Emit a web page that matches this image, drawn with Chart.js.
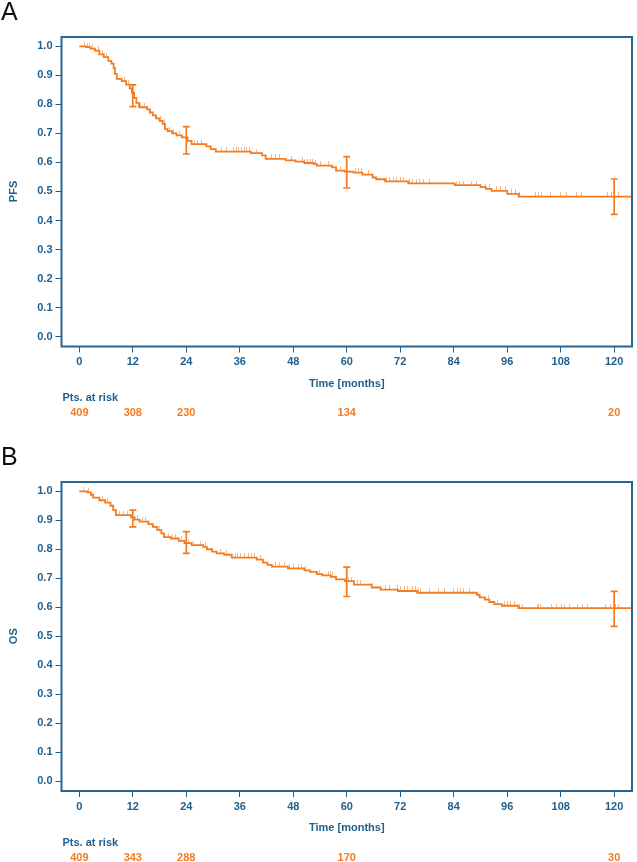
<!DOCTYPE html>
<html><head><meta charset="utf-8">
<script src="https://cdn.jsdelivr.net/npm/chart.js@4/dist/chart.umd.min.js"></script>
<style>
html,body{margin:0;padding:0;background:#fff;}
canvas{position:absolute;left:0;}
#ca{top:0;}
#cb{top:445px;}
</style></head><body>
<canvas id="ca" width="637" height="445"></canvas>
<canvas id="cb" width="637" height="417"></canvas>
<script>
// ---------- data ----------
const xTicks = [0, 12, 24, 36, 48, 60, 72, 84, 96, 108, 120];
const yTicks = [0.0, 0.1, 0.2, 0.3, 0.4, 0.5, 0.6, 0.7, 0.8, 0.9, 1.0];

// PFS (panel A) Kaplan-Meier steps: time of drop, survival after drop
const pfsTime = [0, 1.5, 2.5, 3.5, 4.5, 5.5, 6.5, 7.2, 7.7, 8.0, 8.4, 9.5, 10.5, 11.3, 11.8, 12.3, 12.8, 13.4, 15.2, 15.8, 16.5, 17.2, 18.0, 18.7, 19.2, 19.8, 20.8, 21.8, 23.0, 24.3, 25.2, 28.5, 29.5, 30.6, 38.5, 41.0, 41.8, 46.3, 48.5, 50.5, 52.6, 53.3, 56.7, 57.6, 59.5, 61.5, 63.5, 65.8, 66.6, 68.6, 73.8, 84.2, 90.0, 91.2, 92.5, 96.0, 98.6, 124];
const pfsSurv = [1.0, 0.997, 0.992, 0.985, 0.972, 0.963, 0.950, 0.940, 0.925, 0.905, 0.888, 0.880, 0.868, 0.855, 0.840, 0.822, 0.805, 0.790, 0.783, 0.772, 0.762, 0.752, 0.743, 0.733, 0.715, 0.708, 0.700, 0.693, 0.686, 0.674, 0.663, 0.655, 0.646, 0.637, 0.632, 0.624, 0.612, 0.607, 0.603, 0.598, 0.594, 0.589, 0.583, 0.572, 0.568, 0.565, 0.558, 0.548, 0.542, 0.535, 0.528, 0.522, 0.515, 0.509, 0.502, 0.492, 0.482, 0.482];
const pfsCensor = [1.2, 1.8, 2.2, 3.0, 4.2, 5.2, 6.0, 10.2, 11.0, 13.8, 14.6, 16.0, 18.2, 19.0, 20.2, 21.2, 22.4, 25.8, 26.6, 27.4, 32.0, 33.0, 34.6, 35.2, 35.8, 36.4, 37.0, 37.6, 38.2, 39.8, 43.2, 44.0, 45.0, 47.5, 50.0, 50.6, 51.2, 51.8, 52.4, 53.0, 54.2, 56.0, 58.6, 62.0, 62.6, 63.2, 64.8, 68.9, 69.6, 70.4, 71.2, 72.0, 72.7, 74.1, 74.8, 75.6, 76.4, 77.2, 78.6, 84.6, 85.4, 86.2, 88.0, 89.1, 91.2, 92.0, 93.6, 94.4, 95.6, 97.0, 97.8, 98.7, 102.4, 103.1, 103.8, 105.7, 107.9, 109.4, 111.5, 112.6, 118.4, 119.5, 121.0];
const pfsErrTime = [12, 24, 60, 120];
const pfsErrLow = [0.792, 0.629, 0.512, 0.421];
const pfsErrHigh = [0.867, 0.723, 0.620, 0.543];
const pfsRiskTime = [0, 12, 24, 60, 120];
const pfsRisk = [409, 308, 230, 134, 20];

// OS (panel B)
const osTime = [0, 1.8, 2.6, 3.1, 4.5, 5.8, 7.0, 7.6, 8.2, 11.6, 12.4, 13.5, 15.5, 16.5, 17.5, 18.4, 19.0, 20.5, 22.3, 23.6, 25.2, 27.8, 28.6, 29.8, 30.8, 32.5, 34.2, 39.8, 41.2, 42.2, 43.2, 46.8, 50.5, 51.8, 53.3, 54.5, 56.4, 57.6, 59.6, 61.6, 65.6, 67.6, 71.5, 75.8, 89.2, 89.8, 91.0, 92.0, 93.1, 94.8, 98.5, 124];
const osSurv = [1.0, 0.996, 0.988, 0.978, 0.969, 0.961, 0.950, 0.935, 0.918, 0.910, 0.902, 0.895, 0.887, 0.877, 0.866, 0.855, 0.842, 0.837, 0.829, 0.821, 0.814, 0.808, 0.800, 0.792, 0.786, 0.781, 0.771, 0.764, 0.754, 0.746, 0.740, 0.734, 0.727, 0.722, 0.714, 0.710, 0.705, 0.696, 0.690, 0.678, 0.668, 0.661, 0.656, 0.650, 0.643, 0.634, 0.626, 0.618, 0.611, 0.605, 0.597, 0.597];
const osCensor = [1.0, 2.0, 5.2, 6.4, 9.0, 10.0, 10.8, 13.0, 14.2, 14.8, 18.0, 20.0, 21.0, 21.6, 23.0, 24.6, 25.6, 27.2, 28.2, 31.6, 33.0, 35.0, 35.6, 36.2, 37.0, 38.0, 38.6, 39.2, 40.6, 44.0, 45.0, 46.0, 47.2, 48.0, 49.2, 49.8, 50.7, 53.8, 55.9, 56.3, 56.7, 60.4, 61.0, 61.6, 62.4, 63.0, 65.6, 68.8, 69.6, 71.4, 72.1, 72.9, 73.6, 74.8, 75.4, 76.0, 76.6, 78.5, 80.5, 81.9, 84.0, 84.8, 85.5, 86.2, 87.5, 91.9, 93.8, 95.3, 96.0, 96.8, 97.6, 98.7, 99.4, 102.7, 103.1, 103.4, 105.9, 107.0, 108.1, 108.9, 110.0, 111.8, 112.9, 114.0, 118.1, 119.2, 120.3, 121.0];
const osErrTime = [12, 24, 60, 120];
const osErrLow = [0.877, 0.786, 0.637, 0.534];
const osErrHigh = [0.935, 0.861, 0.738, 0.655];
const osRiskTime = [0, 12, 24, 60, 120];
const osRisk = [409, 343, 288, 170, 30];

// ---------- styling ----------
const BLUE = '#1f5f8e';
const BOX = '#2a6592';
const ORANGE = '#f47b20';
const FONT = '"Liberation Sans", Arial, sans-serif';

function stepAt(times, surv, t) {
  let v = surv[0];
  for (let i = 0; i < times.length; i++) { if (times[i] <= t) v = surv[i]; else break; }
  return v;
}

function censorImage() {
  const c = document.createElement('canvas');
  c.width = 1; c.height = 9;
  const g = c.getContext('2d');
  g.fillStyle = 'rgba(244,123,32,0.55)';
  g.fillRect(0, 0, 1, 4);
  return c;
}

const panelPlugin = {
  id: 'panel',
  afterDatasetsDraw(chart, args, o) {
    const { ctx, chartArea: a, scales: { x, y } } = chart;
    ctx.save();
    ctx.beginPath();
    ctx.rect(a.left, a.top, a.right - a.left, a.bottom - a.top);
    ctx.clip();
    ctx.strokeStyle = ORANGE;
    ctx.lineWidth = 1.7;
    for (let i = 0; i < o.errTime.length; i++) {
      const px = x.getPixelForValue(o.errTime[i]);
      const lo = y.getPixelForValue(o.errLow[i]);
      const hi = y.getPixelForValue(o.errHigh[i]);
      ctx.beginPath();
      ctx.moveTo(px, lo); ctx.lineTo(px, hi);
      ctx.moveTo(px - 3.5, lo); ctx.lineTo(px + 3.5, lo);
      ctx.moveTo(px - 3.5, hi); ctx.lineTo(px + 3.5, hi);
      ctx.stroke();
    }
    ctx.restore();
  },
  afterDraw(chart, args, o) {
    const { ctx, chartArea: a, scales: { x, y } } = chart;
    ctx.save();
    ctx.strokeStyle = BOX;
    ctx.lineWidth = 2;
    ctx.strokeRect(a.left, a.top, a.right - a.left, a.bottom - a.top);

    ctx.fillStyle = '#111';
    ctx.font = '25px ' + FONT;
    ctx.textAlign = 'left';
    ctx.textBaseline = 'alphabetic';
    ctx.fillText(o.letter, 1, 20);

    ctx.fillStyle = BLUE;
    ctx.font = 'bold 11px ' + FONT;
    ctx.textAlign = 'center';
    ctx.textBaseline = 'middle';
    ctx.fillText('Time [months]', x.getPixelForValue(60), a.bottom + 37);
    ctx.textAlign = 'left';
    ctx.fillText('Pts. at risk', a.left + 1, a.bottom + 51.5);

    ctx.fillStyle = ORANGE;
    ctx.textAlign = 'center';
    for (let i = 0; i < o.riskTime.length; i++) {
      ctx.fillText(String(o.risk[i]), x.getPixelForValue(o.riskTime[i]), a.bottom + 66.5);
    }

    ctx.fillStyle = BLUE;
    ctx.translate(14, y.getPixelForValue(0.5));
    ctx.rotate(-Math.PI / 2);
    ctx.fillText(o.yTitle, 0, 0);
    ctx.restore();
  }
};

function makeChart(id, axisHeight, letter, yTitle, times, surv, censor, errTime, errLow, errHigh, riskTime, risk) {
  const img = censorImage();
  return new Chart(document.getElementById(id), {
    type: 'line',
    data: {
      datasets: [
        {
          data: times.map((t, i) => ({ x: t, y: surv[i] })),
          borderColor: ORANGE,
          borderWidth: 1.8,
          stepped: true,
          pointRadius: 0,
          fill: false
        },
        {
          data: censor.map(t => ({ x: t, y: stepAt(times, surv, t) })),
          showLine: false,
          pointStyle: img,
          pointRadius: 4,
          borderColor: ORANGE,
          backgroundColor: ORANGE
        }
      ]
    },
    options: {
      responsive: false,
      animation: false,
      devicePixelRatio: 1,
      events: [],
      layout: { padding: { top: 37, right: 1.5, left: 0, bottom: 0 } },
      plugins: {
        legend: { display: false },
        tooltip: { enabled: false },
        panel: { letter, yTitle, errTime, errLow, errHigh, riskTime, risk }
      },
      scales: {
        x: {
          type: 'linear',
          min: -4, max: 124,
          afterBuildTicks: s => { s.ticks = xTicks.map(v => ({ value: v })); },
          afterFit: s => { s.height = axisHeight; },
          border: { display: false },
          grid: { display: true, drawOnChartArea: false, drawTicks: true, tickLength: 6, color: BLUE, lineWidth: 1 },
          ticks: { autoSkip: false, maxRotation: 0, padding: 3, color: BLUE, font: { family: FONT, size: 11, weight: 'bold' }, callback: v => String(v) }
        },
        y: {
          type: 'linear',
          min: -0.034, max: 1.032,
          afterBuildTicks: s => { s.ticks = yTicks.map(v => ({ value: v })); },
          afterFit: s => { s.width = 61.5; },
          border: { display: false },
          grid: { display: true, drawOnChartArea: false, drawTicks: true, tickLength: 6, color: BLUE, lineWidth: 1 },
          ticks: { autoSkip: false, padding: 3, color: BLUE, font: { family: FONT, size: 11, weight: 'bold' }, callback: v => Number(v).toFixed(1) }
        }
      }
    },
    plugins: [panelPlugin]
  });
}

makeChart('ca', 98.5, 'A', 'PFS', pfsTime, pfsSurv, pfsCensor, pfsErrTime, pfsErrLow, pfsErrHigh, pfsRiskTime, pfsRisk);
makeChart('cb', 71, 'B', 'OS', osTime, osSurv, osCensor, osErrTime, osErrLow, osErrHigh, osRiskTime, osRisk);
</script>
</body></html>
